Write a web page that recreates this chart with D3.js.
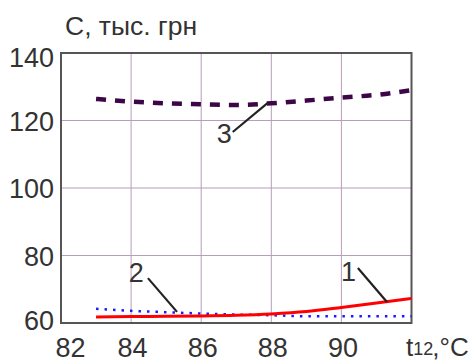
<!DOCTYPE html>
<html>
<head>
<meta charset="utf-8">
<script src="https://cdn.jsdelivr.net/npm/d3@7"></script>
<style>
  html, body { margin: 0; padding: 0; background: #fff; }
  svg { display: block; font-family: "Liberation Sans", Arial, sans-serif; }
</style>
</head>
<body>
<svg id="chart" width="473" height="360"></svg>
<script>
// temperature t12, degC
var temps = [83, 84, 85, 86, 87, 88, 89, 90, 91, 92];
// cost C, thousand UAH
var cost1 = [61.8, 61.9, 62.0, 62.1, 62.3, 62.7, 63.4, 64.6, 65.9, 67.3];
var cost2 = [64.2, 63.6, 63.2, 62.8, 62.5, 62.3, 62.0, 62.0, 62.0, 62.0];
var cost3 = [126.4, 125.6, 125.1, 124.8, 124.6, 125.1, 125.9, 126.8, 127.6, 129.0];
var xTicks = [82, 84, 86, 88, 90];
var yTicks = [60, 80, 100, 120, 140];
// curve number callouts: leader from (x0,y0) to (x1,y1), text at (tx,ty)
var callouts = [
    {label: "1", x0: 90.47, y0: 76.3, x1: 91.3, y1: 66.2, tx: 90.2, ty: 72.3},
    {label: "2", x0: 84.48, y0: 73.3, x1: 85.31, y1: 63.3, tx: 84.15, ty: 72.1},
    {label: "3", x0: 86.9, y0: 116.6, x1: 87.9, y1: 125.2, tx: 86.66, ty: 113.3}
];

var svg = d3.select("#chart");
var plotLeft = 61, plotRight = 411.5, plotTop = 53, plotBottom = 323;

var x = d3.scaleLinear().domain([82, 92]).range([plotLeft, plotRight]);
var y = d3.scaleLinear().domain([60, 140]).range([plotBottom, plotTop]);

// grid
var grid = svg.append("g").attr("stroke", "#b99cbc").attr("stroke-width", 1);
grid.selectAll(".gx").data(xTicks.slice(1)).enter().append("line")
    .attr("x1", function (d) { return x(d); }).attr("x2", function (d) { return x(d); })
    .attr("y1", plotTop).attr("y2", plotBottom);
grid.selectAll(".gy").data(yTicks.slice(1, -1)).enter().append("line")
    .attr("x1", plotLeft).attr("x2", plotRight)
    .attr("y1", function (d) { return y(d); }).attr("y2", function (d) { return y(d); });

// axes (labels only, frame drawn below)
var xAxis = svg.append("g").attr("transform", "translate(0," + plotBottom + ")")
    .call(d3.axisBottom(x).tickValues(xTicks).tickSize(0).tickFormat(d3.format("d")));
xAxis.select(".domain").remove();
xAxis.selectAll("text")
    .attr("y", 34).attr("dy", 0)
    .attr("font-size", 27).attr("font-family", "Liberation Sans, Arial, sans-serif")
    .attr("fill", "#333")
    .attr("dx", function (d) { return d === 82 ? 9 : 1; });

var yAxis = svg.append("g").attr("transform", "translate(" + plotLeft + ",0)")
    .call(d3.axisLeft(y).tickValues(yTicks).tickSize(0).tickFormat(d3.format("d")));
yAxis.select(".domain").remove();
yAxis.selectAll("text")
    .attr("x", -7).attr("dy", function (d) { return d === 140 ? "0.5em" : (d === 60 ? "0.25em" : "0.36em"); })
    .attr("font-size", 27).attr("font-family", "Liberation Sans, Arial, sans-serif")
    .attr("fill", "#333");

// frame
svg.append("rect").attr("x", plotLeft).attr("y", plotTop)
    .attr("width", plotRight - plotLeft).attr("height", plotBottom - plotTop)
    .attr("fill", "none").attr("stroke", "#555").attr("stroke-width", 2);

// curves
var line = d3.line()
    .x(function (d) { return x(d[0]); })
    .y(function (d) { return y(d[1]); })
    .curve(d3.curveMonotoneX);

function pairs(vals) { return temps.map(function (t, i) { return [t, vals[i]]; }); }

svg.append("path").attr("d", line(pairs(cost3)))
    .attr("fill", "none").attr("stroke", "#3d0646").attr("stroke-width", 4.5)
    .attr("stroke-dasharray", "10,9");
svg.append("path").attr("d", line(pairs(cost2)))
    .attr("fill", "none").attr("stroke", "#1a1aff").attr("stroke-width", 2.5)
    .attr("stroke-dasharray", "2.5,6");
svg.append("path").attr("d", line(pairs(cost1)))
    .attr("fill", "none").attr("stroke", "#ff0000").attr("stroke-width", 3);

// callouts
var co = svg.append("g");
co.selectAll("line").data(callouts).enter().append("line")
    .attr("x1", function (d) { return x(d.x0); }).attr("y1", function (d) { return y(d.y0); })
    .attr("x2", function (d) { return x(d.x1); }).attr("y2", function (d) { return y(d.y1); })
    .attr("stroke", "#222").attr("stroke-width", 2.2);
co.selectAll("text").data(callouts).enter().append("text")
    .attr("x", function (d) { return x(d.tx); }).attr("y", function (d) { return y(d.ty); })
    .attr("text-anchor", "middle").attr("font-size", 27).attr("fill", "#333")
    .text(function (d) { return d.label; });

// titles
svg.append("text").attr("x", 65).attr("y", 35)
    .attr("font-size", 26.5).attr("fill", "#333")
    .text("C, тыс. грн");

var xt = svg.append("text").attr("x", 406).attr("y", 356).attr("fill", "#333").attr("font-size", 26);
xt.append("tspan").text("t");
xt.append("tspan").attr("font-size", 18).attr("dy", -1).text("12");
xt.append("tspan").attr("dy", 1).attr("dx", -1).text(",°C");
</script>
</body>
</html>
